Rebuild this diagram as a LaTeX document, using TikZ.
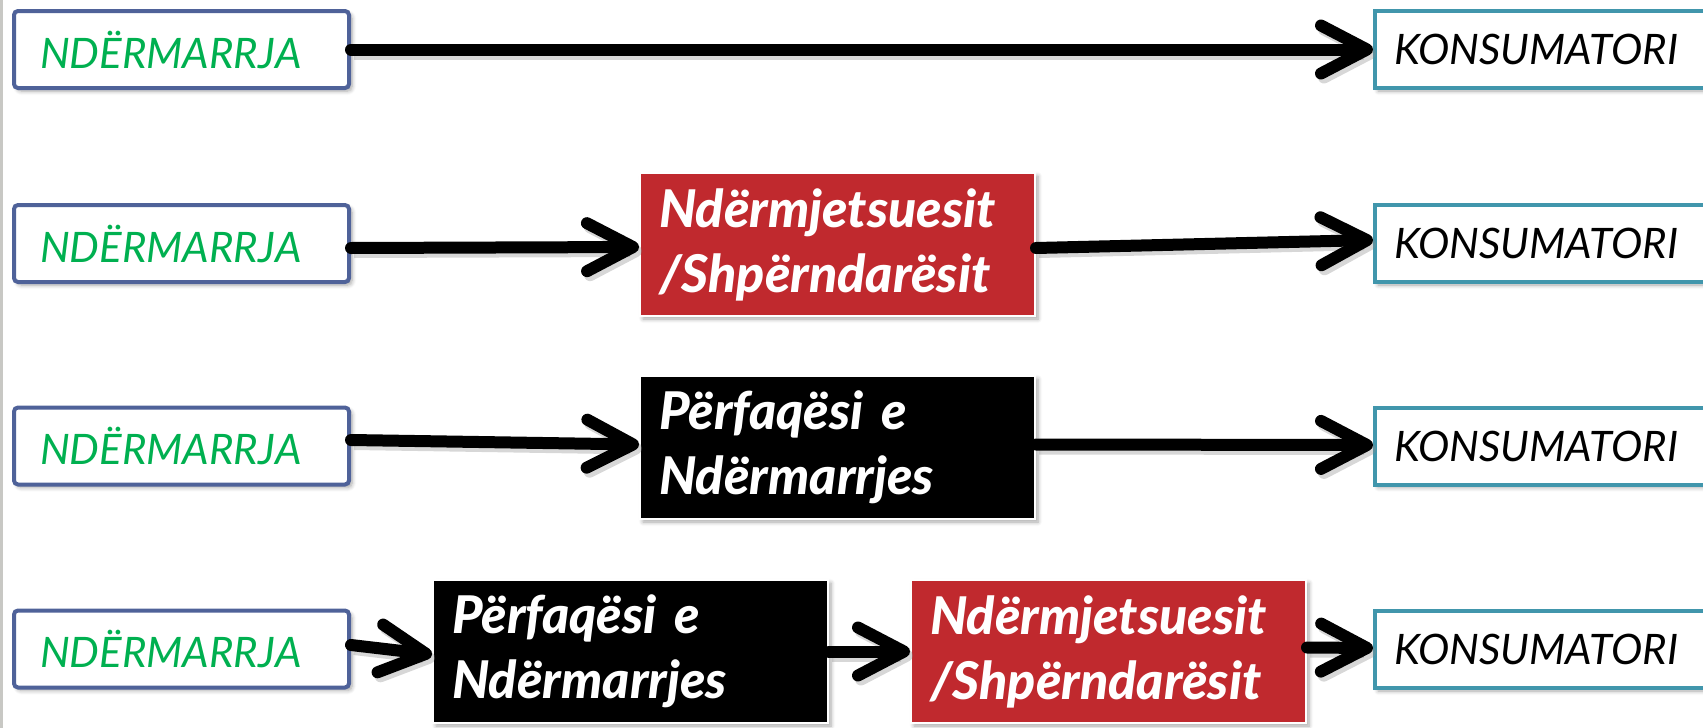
\documentclass[tikz,border=0pt]{standalone}
\usepackage{fontspec}
\setmainfont{Lato}
\newfontfamily\heavyfont{Lato Black}
\usetikzlibrary{arrows.meta,shadows.blur}

\definecolor{entborder}{RGB}{79,98,153}
\definecolor{entgreen}{RGB}{0,176,80}
\definecolor{consborder}{RGB}{65,150,172}
\definecolor{midred}{RGB}{192,41,46}
\definecolor{edgegray}{RGB}{200,200,196}

\begin{document}
\begin{tikzpicture}[x=0.5pt,y=-0.5pt,
  softshadow/.style={blur shadow={shadow xshift=1.5pt,shadow yshift=-1.5pt,shadow blur steps=6,shadow opacity=35}},
  firm/.style={draw=entborder, line width=2pt, fill=white, rounded corners=2pt,
    minimum height=38.5pt, text width=141.5pt, inner xsep=13pt, inner ysep=0pt,
    align=left, anchor=west, text=entgreen,
    font=\fontsize{21}{24}\selectfont\itshape, softshadow},
  consumer/.style={draw=consborder, line width=2pt, fill=white,
    minimum height=38.5pt, text width=170pt, inner xsep=9.5pt, inner ysep=0pt,
    align=left, anchor=west, text=black,
    font=\fontsize{21}{24}\selectfont\itshape, softshadow},
  agent/.style={draw=white, line width=1pt, anchor=north west, text=white,
    minimum height=71.5pt, text width=178.5pt, inner xsep=9.5pt, inner ysep=0pt,
    align=left, font=\heavyfont\fontsize{26}{32.5}\selectfont\itshape, softshadow},
  redbox/.style={agent, fill=midred},
  blackbox/.style={agent, fill=black},
  flow/.style={line width=6pt, line cap=round,
    -{Straight Barb[length=23pt,width=24pt,round]},
    preaction={draw=black!45, opacity=0.35, line width=6pt,
      transform canvas={shift={(1.5pt,-2pt)}}}}
]
% page frame
\useasboundingbox (0,0) rectangle (1703,728);
\fill[edgegray] (0,0) rectangle (3,728);

% row 1: direct channel
\node[firm] (n1) at (12,49.5) {NDËRMARRJA};
\node[consumer] (k1) at (1373,49.5) {KONSUMATORI};
\draw[flow] (n1.east) -- (k1.west);

% row 2: through intermediaries
\node[firm] (n2) at (12,243.5) {NDËRMARRJA};
\node[redbox] (r2) at (639,172) {Ndërmjetsuesit\\/Shpërndarësit};
\node[consumer] (k2) at (1373,243.5) {KONSUMATORI};
\draw[flow] ([yshift=-2.25pt]n2.east) -- ([yshift=-1.25pt]r2.west);
\draw[flow] ([yshift=-1.75pt]r2.east) -- ([yshift=1.75pt]k2.west);

% row 3: through the firm's representative
\node[firm] (n3) at (12,446) {NDËRMARRJA};
\node[blackbox] (b3) at (639,375) {Përfaqësi e\\Ndërmarrjes};
\node[consumer] (k3) at (1373,446) {KONSUMATORI};
\draw[flow] ([yshift=3pt]n3.east) -- ([yshift=1.5pt]b3.west);
\draw[flow] ([yshift=1.5pt]b3.east) -- ([yshift=0.5pt]k3.west);

% row 4: representative, then intermediaries
\node[firm] (n4) at (12,649) {NDËRMARRJA};
\node[blackbox] (b4) at (432,579) {Përfaqësi e\\Ndërmarrjes};
\node[redbox] (r4) at (910,579) {Ndërmjetsuesit\\/Shpërndarësit};
\node[consumer] (k4) at (1373,649.5) {KONSUMATORI};
\draw[flow] ([yshift=2pt]n4.east) -- ([yshift=-1.5pt]b4.west);
\draw[flow] (b4.east) -- (r4.west);
\draw[flow] ([yshift=2pt]r4.east) -- ([yshift=0.75pt]k4.west);
\end{tikzpicture}
\end{document}
